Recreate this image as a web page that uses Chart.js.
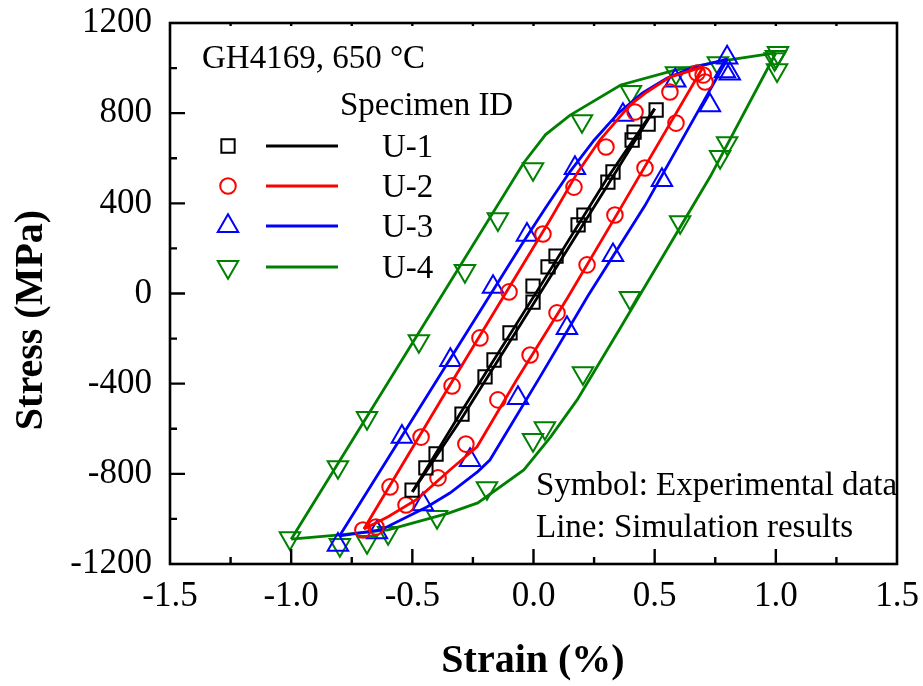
<!DOCTYPE html>
<html>
<head>
<meta charset="utf-8">
<script src="https://cdn.jsdelivr.net/npm/chart.js@4.4.1/dist/chart.umd.min.js"></script>
<style>
  html, body { margin: 0; padding: 0; background: #ffffff; }
  #wrap { width: 923px; height: 686px; }
</style>
</head>
<body>
<div id="wrap"><canvas id="c" width="923" height="686"></canvas></div>
<script>
// ---------- Axis ticks ----------
const strainTicks = [-1.5, -1.0, -0.5, 0.0, 0.5, 1.0, 1.5];
const stressTicks = [-1200, -800, -400, 0, 400, 800, 1200];

// ---------- Series names / colours ----------
const seriesNames = ['U-1', 'U-2', 'U-3', 'U-4'];
const seriesColors = ['#000000', '#ff0000', '#0000ff', '#008000'];

// ---------- Simulation lines (strain %, stress MPa) ----------
const u1SimLoadStrain   = [-0.5, -0.3, 0.0, 0.3, 0.5];
const u1SimLoadStress   = [-880, -560, -45, 470, 820];
const u1SimUnloadStrain = [0.5, 0.3, 0.0, -0.3, -0.5];
const u1SimUnloadStress = [820, 505, -15, -528, -880];

const u2SimLoadStrain   = [-0.7, -0.357, 0.068, 0.18, 0.274, 0.398, 0.468, 0.563, 0.7];
const u2SimLoadStress   = [-1045, -428, 326, 534, 681, 836, 894, 960, 1005];
const u2SimUnloadStrain = [0.7, 0.36, 0.14, -0.07, -0.233, -0.345, -0.48, -0.6, -0.7];
const u2SimUnloadStress = [1005, 380, -20, -384, -680, -783, -912, -990, -1045];

const u3SimLoadStrain   = [-0.8, -0.05, 0.05, 0.15, 0.25, 0.35, 0.45, 0.55, 0.65, 0.8];
const u3SimLoadStress   = [-1075, 215, 380, 540, 680, 800, 890, 955, 1000, 1040];
const u3SimUnloadStrain = [0.8, 0.46, 0.225, 0.027, -0.18, -0.23, -0.345, -0.44, -0.63, -0.8];
const u3SimUnloadStress = [1040, 390, -10, -370, -739, -790, -885, -947, -1049, -1075];

const u4SimLoadStrain   = [-1.0, -0.04, 0.05, 0.15, 0.36, 0.58, 0.8, 1.0];
const u4SimLoadStress   = [-1090, 580, 705, 790, 925, 990, 1035, 1067];
const u4SimUnloadStrain = [1.0, 0.73, 0.36, 0.18, 0.07, -0.04, -0.23, -0.35, -0.6, -0.8, -1.0];
const u4SimUnloadStress = [1067, 520, -150, -472, -637, -783, -929, -974, -1049, -1071, -1090];

// ---------- Experimental data (strain %, stress MPa) ----------
const u1ExpStrain = [-0.501, -0.444, -0.402, -0.295, -0.200, -0.163, -0.097, -0.002, -0.002, 0.060, 0.093, 0.184, 0.208, 0.307, 0.328, 0.407, 0.415, 0.473, 0.506];
const u1ExpStress = [-872, -774, -712, -535, -370, -295, -175, -38, 33, 118, 166, 304, 348, 494, 539, 681, 716, 751, 814];

const u2ExpStrain = [-0.704, -0.592, -0.464, -0.336, -0.221, -0.101, 0.039, 0.167, 0.299, 0.419, 0.563, 0.675, 0.700, 0.708,
                     0.588, 0.460, 0.336, 0.221, 0.097, -0.014, -0.147, -0.279, -0.394, -0.526, -0.650];
const u2ExpStress = [-1049, -858, -637, -410, -197, 7, 264, 472, 650, 805, 894, 978, 969, 938,
                     756, 557, 348, 127, -86, -273, -472, -668, -818, -938, -1036];

const u3ExpStrain = [-0.807, -0.543, -0.343, -0.167, -0.027, 0.171, 0.369, 0.585, 0.799, 0.79, 0.81,
                     0.728, 0.530, 0.328, 0.138, -0.064, -0.262, -0.456, -0.646];
const u3ExpStress = [-1115, -636, -295, 29, 260, 556, 792, 945, 1047, 985, 975,
                     835, 503, 170, -153, -464, -739, -935, -1060];

const u4ExpStrain = [-1.005, -0.807, -0.687, -0.473, -0.283, -0.147, -0.002, 0.200, 0.402, 0.588, 0.761, 1.009, 1.0, 0.995,
                     1.005, 0.799, 0.770, 0.605, 0.398, 0.204, 0.047, -0.002, -0.192, -0.398, -0.600, -0.687, -0.799];
const u4ExpStress = [-1085, -770, -552, -211, 100, 330, 552, 765, 894, 978, 1022, 1067, 1050, 1040,
                     991, 667, 606, 317, -20, -353, -597, -650, -863, -991, -1062, -1102, -1115];

// ---------- Text ----------
const xTitle = 'Strain (%)';
const yTitle = 'Stress (MPa)';
const noteMaterial = 'GH4169, 650 \u00B0C';
const legendTitle = 'Specimen ID';
const noteSymbol = 'Symbol: Experimental data';
const noteLine = 'Line: Simulation results';

// ---------- helpers ----------
function pts(xs, ys) { return xs.map((x, i) => ({ x: x, y: ys[i] })); }
function simLine(xs, ys, color, order) {
  return { data: pts(xs, ys), showLine: true, borderColor: color, borderWidth: 2.8,
           pointRadius: 0, pointHoverRadius: 0, fill: false, tension: 0, order: order };
}
function markers(xs, ys, color, style, radius, rotation, order) {
  return { data: pts(xs, ys), showLine: false, borderColor: color, backgroundColor: 'rgba(0,0,0,0)',
           pointStyle: style, pointRadius: radius, pointRotation: rotation || 0, pointBorderWidth: 2,
           pointHoverRadius: radius, order: order };
}
const markerStyles = [
  { style: 'rect', radius: 9.4, rotation: 0 },
  { style: 'circle', radius: 7.8, rotation: 0 },
  { style: 'triangle', radius: 11.8, rotation: 0 },
  { style: 'triangle', radius: 11.8, rotation: 180 }
];

const FONT = "'Liberation Serif', 'Times New Roman', serif";

const datasets = [
  simLine(u1SimLoadStrain, u1SimLoadStress, seriesColors[0], 1),
  simLine(u1SimUnloadStrain, u1SimUnloadStress, seriesColors[0], 1),
  markers(u1ExpStrain, u1ExpStress, seriesColors[0], markerStyles[0].style, markerStyles[0].radius, 0, 0),
  simLine(u2SimLoadStrain, u2SimLoadStress, seriesColors[1], 3),
  simLine(u2SimUnloadStrain, u2SimUnloadStress, seriesColors[1], 3),
  markers(u2ExpStrain, u2ExpStress, seriesColors[1], markerStyles[1].style, markerStyles[1].radius, 0, 2),
  simLine(u3SimLoadStrain, u3SimLoadStress, seriesColors[2], 5),
  simLine(u3SimUnloadStrain, u3SimUnloadStress, seriesColors[2], 5),
  markers(u3ExpStrain, u3ExpStress, seriesColors[2], markerStyles[2].style, markerStyles[2].radius, 0, 4),
  simLine(u4SimLoadStrain, u4SimLoadStress, seriesColors[3], 7),
  simLine(u4SimUnloadStrain, u4SimUnloadStress, seriesColors[3], 7),
  markers(u4ExpStrain, u4ExpStress, seriesColors[3], markerStyles[3].style, markerStyles[3].radius, 180, 6)
];

const decor = {
  id: 'decor',
  afterDraw(chart) {
    const ctx = chart.ctx;
    const a = chart.chartArea;
    const xs = chart.scales.x, ys = chart.scales.y;
    ctx.save();
    // frame
    ctx.strokeStyle = '#000';
    ctx.lineWidth = 2.6;
    ctx.strokeRect(a.left, a.top, a.right - a.left, a.bottom - a.top);
    // inward ticks
    ctx.lineWidth = 2.4;
    ctx.beginPath();
    for (let v = -1.5; v <= 1.5001; v += 0.25) {
      const px = xs.getPixelForValue(v);
      const major = Math.abs(v * 2 - Math.round(v * 2)) < 1e-6;
      const len = major ? 15 : 7;
      if (px > a.left + 1 && px < a.right - 1) {
        ctx.moveTo(px, a.bottom); ctx.lineTo(px, a.bottom - len);
        ctx.moveTo(px, a.top); ctx.lineTo(px, a.top + 3);
      }
    }
    for (let v = -1200; v <= 1200; v += 200) {
      const py = ys.getPixelForValue(v);
      const major = v % 400 === 0;
      const len = major ? 15 : 7;
      if (py > a.top + 1 && py < a.bottom - 1) {
        ctx.moveTo(a.left, py); ctx.lineTo(a.left + len, py);
      }
    }
    ctx.stroke();

    // axis titles
    ctx.fillStyle = '#000';
    ctx.font = 'bold 40px ' + FONT;
    ctx.textAlign = 'center';
    ctx.textBaseline = 'alphabetic';
    ctx.fillText(xTitle, 533, 672);
    ctx.save();
    ctx.translate(42, 320);
    ctx.rotate(-Math.PI / 2);
    ctx.fillText(yTitle, 0, 0);
    ctx.restore();

    // notes
    ctx.font = '33px ' + FONT;
    ctx.textAlign = 'left';
    ctx.fillText(noteMaterial, 202, 68);
    ctx.fillText(legendTitle, 340, 115);
    ctx.fillText(noteSymbol, 536, 495);
    ctx.fillText(noteLine, 536, 537);

    // legend
    const rowY = [146, 186, 226, 267];
    for (let i = 0; i < seriesNames.length; i++) {
      const y = rowY[i];
      ctx.strokeStyle = seriesColors[i];
      ctx.fillStyle = 'rgba(0,0,0,0)';
      ctx.lineWidth = 2;
      Chart.helpers.drawPoint(ctx, { pointStyle: markerStyles[i].style, radius: markerStyles[i].radius,
        rotation: markerStyles[i].rotation, borderWidth: 2 }, 228, y);
      ctx.beginPath();
      ctx.lineWidth = 2.8;
      ctx.moveTo(266, y); ctx.lineTo(338, y);
      ctx.stroke();
      ctx.fillStyle = '#000';
      ctx.fillText(seriesNames[i], 382, y + 11);
    }
    ctx.restore();
  }
};

new Chart(document.getElementById('c'), {
  type: 'scatter',
  data: { datasets: datasets },
  plugins: [decor],
  options: {
    responsive: false,
    animation: false,
    devicePixelRatio: 1,
    layout: { padding: { left: 0, right: 26, top: 23, bottom: 0 } },
    plugins: { legend: { display: false }, tooltip: { enabled: false } },
    scales: {
      x: {
        type: 'linear', min: -1.5, max: 1.5,
        afterBuildTicks: (s) => { s.ticks = strainTicks.map(v => ({ value: v })); },
        afterFit: (s) => { s.height = 122; s.paddingLeft = 0; s.paddingRight = 0; },
        grid: { display: false, drawTicks: false },
        border: { display: false },
        ticks: { color: '#000', padding: 12, maxRotation: 0, autoSkip: false,
                 font: { family: FONT, size: 35 },
                 callback: (v) => Number(v).toFixed(1) }
      },
      y: {
        type: 'linear', min: -1200, max: 1200,
        afterBuildTicks: (s) => { s.ticks = stressTicks.map(v => ({ value: v })); },
        afterFit: (s) => { s.width = 170; s.paddingTop = 0; s.paddingBottom = 0; },
        grid: { display: false, drawTicks: false },
        border: { display: false },
        ticks: { color: '#000', padding: 18, autoSkip: false,
                 font: { family: FONT, size: 35 },
                 callback: (v) => String(v) }
      }
    }
  }
});
</script>
</body>
</html>
